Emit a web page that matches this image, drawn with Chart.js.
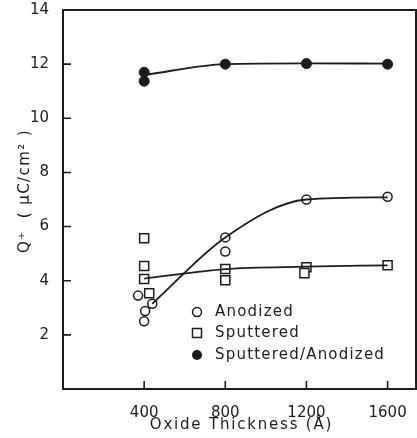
<!DOCTYPE html>
<html lang="en">
<head>
  <meta charset="UTF-8">
  <title>Q+ vs Oxide Thickness</title>
  <script src="https://cdn.jsdelivr.net/npm/chart.js"></script>
  <style>
    html, body { margin: 0; padding: 0; background: #fff; overflow: hidden; }
    #wrap { width: 417px; height: 438px; }
  </style>
</head>
<body>
  <div id="wrap"><canvas id="qChart" width="417" height="438"></canvas></div>

  <script>
    // measured points
    const anodizedX = [370, 440, 405, 400, 800, 800, 1200, 1600];
    const anodizedQ = [3.45, 3.15, 2.88, 2.5, 5.6, 5.08, 7.0, 7.1];
    const sputteredX = [400, 400, 400, 425, 800, 800, 1200, 1190, 1600];
    const sputteredQ = [5.57, 4.54, 4.06, 3.54, 4.43, 4.02, 4.5, 4.28, 4.57];
    const bothX = [400, 400, 800, 1200, 1600];
    const bothQ = [11.7, 11.37, 12.0, 12.02, 12.0];

    // hand-drawn fit curves
    const fitAnodizedX = [440, 800, 1200, 1600];
    const fitAnodizedQ = [3.15, 5.6, 7.0, 7.08];
    const fitSputteredX = [400, 800, 1200, 1600];
    const fitSputteredQ = [4.08, 4.43, 4.52, 4.57];
    const fitBothX = [400, 800, 1200, 1600];
    const fitBothQ = [11.6, 12.0, 12.03, 12.02];

    const xTicks = [400, 800, 1200, 1600];
    const legendLabels = ['Anodized', 'Sputtered', 'Sputtered/Anodized'];

    const ink = '#1c1c1c';
    const font = 'DejaVu Sans';

    const pts = (xs, ys) => xs.map((x, i) => ({ x, y: ys[i] }));

    const fitLine = (xs, ys) => ({
      type: 'line',
      data: pts(xs, ys),
      borderColor: ink,
      borderWidth: 1.8,
      pointRadius: 0,
      cubicInterpolationMode: 'monotone',
      fill: false
    });

    // box, inward ticks, legend and axis titles
    const decorations = {
      id: 'decorations',
      afterDraw(chart) {
        const { ctx, chartArea: a, scales: { x, y } } = chart;
        ctx.save();
        ctx.strokeStyle = ink;
        ctx.lineWidth = 2;
        ctx.strokeRect(a.left, a.top, a.right - a.left, a.bottom - a.top);

        ctx.lineWidth = 1.6;
        ctx.beginPath();
        xTicks.forEach(v => {
          const px = x.getPixelForValue(v);
          ctx.moveTo(px, a.bottom);
          ctx.lineTo(px, a.bottom - 8);
        });
        for (let v = 2; v <= 12; v += 2) {
          const py = y.getPixelForValue(v);
          ctx.moveTo(a.left, py);
          ctx.lineTo(a.left + 8, py);
        }
        ctx.stroke();

        // legend
        ctx.fillStyle = ink;
        ctx.font = '15px "' + font + '"';
        ctx.textBaseline = 'middle';
        ctx.textAlign = 'left';
        ctx.letterSpacing = '1.2px';
        const mx = 197, tx = 215, rows = [312, 333, 355];
        ctx.lineWidth = 1.5;
        ctx.beginPath();
        ctx.arc(mx, rows[0], 4.5, 0, Math.PI * 2);
        ctx.stroke();
        ctx.strokeRect(mx - 4.5, rows[1] - 4.5, 9, 9);
        ctx.beginPath();
        ctx.arc(mx, rows[2], 5, 0, Math.PI * 2);
        ctx.fill();
        legendLabels.forEach((t, i) => ctx.fillText(t, tx, rows[i]));

        // x title
        ctx.textAlign = 'center';
        ctx.letterSpacing = '1.8px';
        ctx.fillText('Oxide Thickness (Å)', (a.left + a.right) / 2 + 2, 425);

        // y title
        ctx.translate(25, 191);
        ctx.rotate(-Math.PI / 2);
        ctx.letterSpacing = '1.4px';
        ctx.fillText('Q⁺  ( μC/cm² )', 0, 0);
        ctx.restore();
      }
    };

    const ctx = document.getElementById('qChart').getContext('2d');

    new Chart(ctx, {
      type: 'scatter',
      data: {
        datasets: [
          fitLine(fitAnodizedX, fitAnodizedQ),
          fitLine(fitSputteredX, fitSputteredQ),
          fitLine(fitBothX, fitBothQ),
          {
            label: 'Anodized',
            data: pts(anodizedX, anodizedQ),
            pointStyle: 'circle',
            pointRadius: 4.5,
            borderWidth: 1.5,
            borderColor: ink,
            backgroundColor: '#fff'
          },
          {
            label: 'Sputtered',
            data: pts(sputteredX, sputteredQ),
            pointStyle: 'rect',
            pointRadius: 6.4,
            borderWidth: 1.5,
            borderColor: ink,
            backgroundColor: '#fff'
          },
          {
            label: 'Sputtered/Anodized',
            data: pts(bothX, bothQ),
            pointStyle: 'circle',
            pointRadius: 5,
            borderWidth: 1,
            borderColor: ink,
            backgroundColor: ink
          }
        ]
      },
      options: {
        responsive: false,
        animation: false,
        layout: { autoPadding: false, padding: { top: 10, right: 1, left: 0, bottom: 0 } },
        plugins: {
          legend: { display: false },
          tooltip: { enabled: false }
        },
        scales: {
          x: {
            type: 'linear',
            min: 0,
            max: 1740,
            grid: { display: false },
            border: { display: false },
            afterBuildTicks: s => { s.ticks = xTicks.map(v => ({ value: v })); },
            afterFit: s => { s.height = 49; s.paddingLeft = 0; s.paddingRight = 0; },
            ticks: {
              color: ink,
              padding: 7,
              maxRotation: 0,
              font: { family: font, size: 15 },
              callback: v => String(v)
            }
          },
          y: {
            min: 0,
            max: 14,
            grid: { display: false },
            border: { display: false },
            afterFit: s => { s.width = 63; s.paddingTop = 0; s.paddingBottom = 0; },
            ticks: {
              stepSize: 2,
              color: ink,
              padding: 6,
              font: { family: font, size: 15 },
              callback: v => (v === 0 ? '' : String(v))
            }
          }
        }
      },
      plugins: [decorations]
    });
  </script>
</body>
</html>
